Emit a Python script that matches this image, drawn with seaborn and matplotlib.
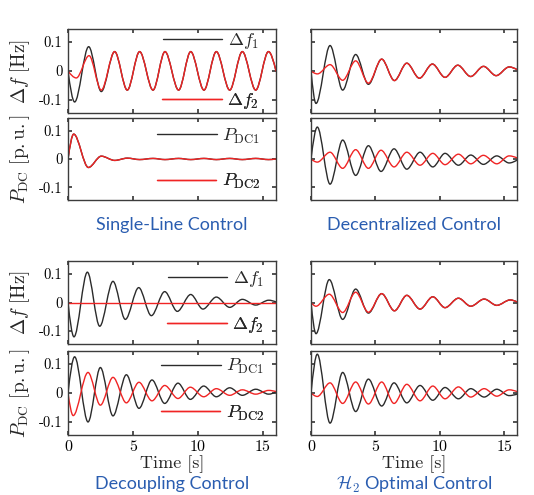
import numpy as np
import matplotlib
matplotlib.use('Agg')
import matplotlib.pyplot as plt
import seaborn as sns
from matplotlib.path import Path
from matplotlib.patches import PathPatch
from matplotlib.lines import Line2D

# extrema (time [s], value), plus start/end points
# Single-Line Control
sl_df1_t = [0, 0.51, 1.59, 2.56, 3.59, 4.56, 5.51, 6.54, 7.46, 8.51, 9.44, 10.46, 11.41, 12.44, 13.41, 14.44, 15.42, 16]
sl_df1_v = [0, -0.107, 0.084, -0.071, 0.067, -0.066, 0.067, -0.066, 0.067, -0.066, 0.067, -0.066, 0.067, -0.066, 0.067, -0.066, 0.067, 0.0]
sl_df2_t = [0, 0.64, 1.62, 2.56, 3.59, 4.56, 5.51, 6.54, 7.46, 8.51, 9.44, 10.46, 11.41, 12.44, 13.41, 14.44, 15.42, 16]
sl_df2_v = [0, -0.024, 0.053, -0.066, 0.067, -0.066, 0.067, -0.066, 0.067, -0.066, 0.067, -0.066, 0.067, -0.066, 0.067, -0.066, 0.067, 0.0]
sl_p1_t = [0, 0.44, 1.57, 2.56, 3.59, 4.56, 5.51, 6.54, 7.46, 8.51, 9.44, 10.46, 11.41, 12.44, 13.41, 14.44, 15.42, 16]
sl_p1_v = [0, 0.088, -0.030, 0.010, -0.005, 0.003, -0.002, 0.002, -0.002, 0.002, -0.002, 0.002, -0.002, 0.002, -0.002, 0.002, -0.002, 0.0]
sl_p2_t = sl_p1_t
sl_p2_v = sl_p1_v

# Decentralized Control
dc_df1_t = [0, 0.39, 1.48, 2.46, 3.47, 4.46, 5.49, 6.48, 7.44, 8.42, 9.43, 10.41, 11.40, 12.40, 13.40, 14.38, 15.39, 16]
dc_df1_v = [0, -0.112, 0.088, -0.066, 0.057, -0.046, 0.041, -0.033, 0.027, -0.025, 0.024, -0.022, 0.020, -0.019, 0.016, -0.016, 0.014, 0.005]
dc_df2_t = [0, 0.50, 1.48, 2.46, 3.47, 4.46, 5.49, 6.48, 7.44, 8.42, 9.43, 10.41, 11.40, 12.40, 13.40, 14.38, 15.39, 16]
dc_df2_v = [0, -0.010, 0.022, -0.032, 0.035, -0.042, 0.041, -0.033, 0.027, -0.025, 0.024, -0.022, 0.020, -0.019, 0.016, -0.016, 0.014, 0.005]
dc_p1_t = [0, 0.49, 1.48, 2.46, 3.47, 4.46, 5.44, 6.45, 7.44, 8.47, 9.46, 10.41, 11.45, 12.41, 13.39, 14.43, 15.39, 16]
dc_p1_v = [0, 0.113, -0.089, 0.067, -0.058, 0.047, -0.044, 0.036, -0.036, 0.024, -0.028, 0.020, -0.022, 0.014, -0.019, 0.011, -0.014, -0.004]
dc_p2_t = dc_p1_t
dc_p2_v = [0, -0.011, 0.024, -0.033, 0.033, -0.033, 0.031, -0.028, 0.024, -0.022, 0.020, -0.020, 0.017, -0.017, 0.013, -0.017, 0.011, 0.004]

# Decoupling Control
dp_df1_t = [0, 0.46, 1.49, 2.44, 3.46, 4.41, 5.44, 6.41, 7.44, 8.41, 9.44, 10.38, 11.41, 12.44, 13.41, 14.44, 15.44, 16]
dp_df1_v = [0, -0.120, 0.106, -0.083, 0.074, -0.059, 0.052, -0.046, 0.038, -0.031, 0.028, -0.023, 0.019, -0.017, 0.011, -0.009, 0.008, 0.002]
dp_df2_t = [0, 16]
dp_df2_v = [0, 0]
dp_p1_t = [0, 0.51, 1.54, 2.49, 3.46, 4.49, 5.46, 6.46, 7.44, 8.46, 9.41, 10.44, 11.41, 12.44, 13.41, 14.44, 15.44, 16]
dp_p1_v = [0, 0.125, -0.100, 0.088, -0.079, 0.063, -0.053, 0.045, -0.036, 0.034, -0.022, 0.024, -0.013, 0.018, -0.008, 0.013, -0.004, 0.004]
dp_p2_t = [0, 0.40, 1.54, 2.49, 3.46, 4.49, 5.46, 6.46, 7.44, 8.46, 9.41, 10.44, 11.41, 12.44, 13.41, 14.44, 15.44, 16]
dp_p2_v = [0, -0.078, 0.071, -0.042, 0.054, -0.034, 0.037, -0.027, 0.026, -0.019, 0.020, -0.013, 0.015, -0.008, 0.011, -0.004, 0.009, 0.005]

# H2 Optimal Control
h2_df1_t = [0, 0.39, 1.42, 2.46, 3.47, 4.46, 5.49, 6.48, 7.44, 8.47, 9.46, 10.41, 11.45, 12.41, 13.45, 14.43, 15.47, 16]
h2_df1_v = [0, -0.109, 0.080, -0.059, 0.047, -0.037, 0.031, -0.029, 0.025, -0.023, 0.020, -0.018, 0.015, -0.013, 0.012, -0.010, 0.009, 0.002]
h2_df2_t = h2_df1_t
h2_df2_v = [0, -0.013, 0.029, -0.035, 0.036, -0.034, 0.031, -0.029, 0.025, -0.023, 0.020, -0.018, 0.015, -0.013, 0.012, -0.010, 0.009, 0.002]
h2_p1_t = [0, 0.49, 1.48, 2.46, 3.47, 4.46, 5.49, 6.45, 7.44, 8.47, 9.46, 10.41, 11.45, 12.41, 13.45, 14.43, 15.39, 16]
h2_p1_v = [0, 0.134, -0.104, 0.071, -0.064, 0.048, -0.045, 0.035, -0.034, 0.026, -0.025, 0.019, -0.020, 0.015, -0.014, 0.013, -0.009, -0.004]
h2_p2_t = h2_p1_t
h2_p2_v = [0, -0.012, 0.035, -0.036, 0.038, -0.038, 0.038, -0.036, 0.030, -0.027, 0.024, -0.020, 0.021, -0.014, 0.015, -0.011, 0.011, 0.005]

titles = ['Single-Line Control', 'Decentralized Control', 'Decoupling Control', r'$\mathcal{H}_2$ Optimal Control']
yticks = [-0.1, 0, 0.1]
ytick_labels = ['-0.1', '0', '0.1']
xticks = [0, 5, 10, 15]
xtick_labels = ['0', '5', '10', '15']

BLACK = '#2b2b2b'
RED = '#f02424'
BLUE = '#2a5db0'

sns.set_theme(style='ticks')
plt.rcParams.update({
    'font.family': ['cmr10', 'DejaVu Serif'],
    'mathtext.fontset': 'cm',
    'axes.unicode_minus': False,
    'axes.edgecolor': '#3c3c3c',
    'axes.linewidth': 1.0,
    'xtick.direction': 'in', 'ytick.direction': 'in',
    'xtick.top': True, 'ytick.right': True,
    'xtick.major.size': 3, 'ytick.major.size': 3,
    'xtick.color': '#3c3c3c', 'ytick.color': '#3c3c3c',
    'xtick.labelcolor': 'black', 'ytick.labelcolor': 'black',
})


def smooth_curve(ax, t, v, color):
    # cubic Bezier between consecutive extrema (flat tangents at the extrema)
    verts = [(t[0], v[0])]
    codes = [Path.MOVETO]
    n = len(t)
    for i in range(n - 1):
        t0, t1, v0, v1 = t[i], t[i + 1], v[i], v[i + 1]
        dt = t1 - t0
        c1 = (t0 + dt / 3, v0 + (0.52 * (v1 - v0) if i == 0 else 0))
        c2 = (t1 - dt / 3, v1 - (0.52 * (v1 - v0) if i == n - 2 else 0))
        verts += [c1, c2, (t1, v1)]
        codes += [Path.CURVE4] * 3
    ax.add_patch(PathPatch(Path(verts, codes), facecolor='none', edgecolor=color,
                           lw=1.0, capstyle='round', joinstyle='round'))


def add_key(ax, color, label, xfrac, yfrac):
    h = Line2D([], [], color=color, lw=1.0)
    leg = ax.legend(handles=[h], labels=[label], loc='center right',
                    bbox_to_anchor=(xfrac, yfrac), frameon=False, fontsize=13,
                    handlelength=3.3, handletextpad=0.3, borderaxespad=0, borderpad=0)
    ax.add_artist(leg)


W, H = 534, 495
fig = plt.figure(figsize=(W / 100, H / 100), dpi=100)

cols = [(68, 276), (311, 517)]
rows = [(29, 113), (118, 200), (261, 344), (351, 435)]


def make_ax(r, c):
    x0, x1 = cols[c]
    y0, y1 = rows[r]
    ax = fig.add_axes([x0 / W, 1 - y1 / H, (x1 - x0) / W, (y1 - y0) / H])
    ax.set_xlim(0, 16)
    ax.set_ylim(-0.145, 0.145)
    ax.set_xticks(xticks)
    ax.set_yticks(yticks)
    if r == 3:
        ax.set_xticklabels(xtick_labels, fontsize=11.5)
        ax.set_xlabel('Time [s]', fontsize=13, labelpad=1)
    else:
        ax.set_xticklabels([])
    if c == 0:
        ax.set_yticklabels(ytick_labels, fontsize=10.5)
    else:
        ax.set_yticklabels([])
    ax.tick_params(pad=4)
    return ax


panels = [
    (0, 0, sl_df1_t, sl_df1_v, sl_df2_t, sl_df2_v, 'f', (0.918, 0.855, 0.14)),
    (1, 0, sl_p1_t, sl_p1_v, sl_p2_t, sl_p2_v, 'p', (0.923, 0.78, 0.22)),
    (0, 1, dc_df1_t, dc_df1_v, dc_df2_t, dc_df2_v, 'f', None),
    (1, 1, dc_p1_t, dc_p1_v, dc_p2_t, dc_p2_v, 'p', None),
    (2, 0, dp_df1_t, dp_df1_v, dp_df2_t, dp_df2_v, 'f', (0.942, 0.78, 0.23)),
    (3, 0, dp_p1_t, dp_p1_v, dp_p2_t, dp_p2_v, 'p', (0.942, 0.81, 0.26)),
    (2, 1, h2_df1_t, h2_df1_v, h2_df2_t, h2_df2_v, 'f', None),
    (3, 1, h2_p1_t, h2_p1_v, h2_p2_t, h2_p2_v, 'p', None),
]

for r, c, t1, v1, t2, v2, kind, keys in panels:
    ax = make_ax(r, c)
    smooth_curve(ax, t1, v1, BLACK)
    if len(t2) == 2:
        sns.lineplot(x=t2, y=v2, color=RED, lw=1.0, ax=ax)
    else:
        smooth_curve(ax, t2, v2, RED)
    if c == 0:
        if kind == 'f':
            ax.set_ylabel(r'$\Delta f\ [\mathrm{Hz}]$', fontsize=14)
            labs = [r'$\Delta f_1$', r'$\Delta f_2$']
        else:
            ax.set_ylabel(r'$P_{\mathrm{DC}}\ [\mathrm{p.u.}]$', fontsize=14)
            labs = [r'$P_{\mathrm{DC1}}$', r'$P_{\mathrm{DC2}}$']
        ax.yaxis.set_label_coords(-0.175, 0.5)
        add_key(ax, BLACK, labs[0], keys[0], keys[1])
        add_key(ax, RED, labs[1], keys[0], keys[2])

for i, title in enumerate(titles):
    x0, x1 = cols[i % 2]
    ty = 225 if i < 2 else 484
    fig.text((x0 + x1) / 2 / W, 1 - ty / H, title, color=BLUE, fontsize=13,
             family='Lato', ha='center', va='center')

fig.savefig('out.png', dpi=100)
